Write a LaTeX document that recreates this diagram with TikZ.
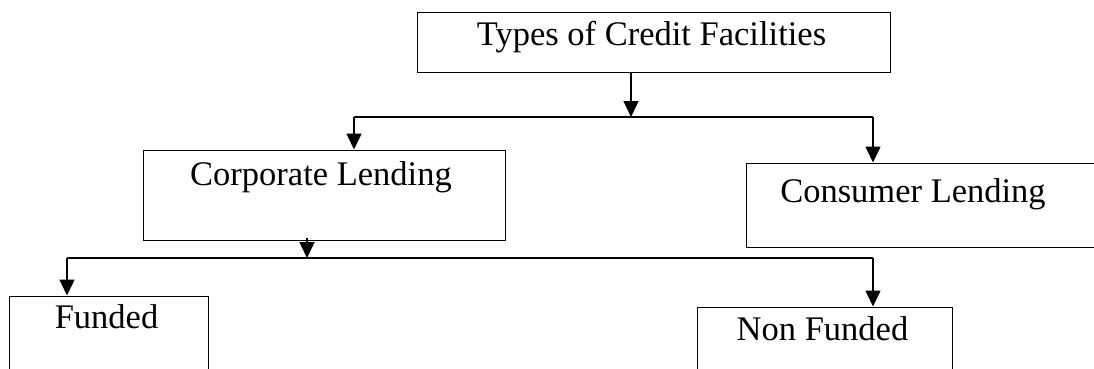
\documentclass[tikz,border=0pt]{standalone}
\usepackage{fontspec}
\setmainfont{Liberation Serif}
\usetikzlibrary{arrows.meta}

\tikzset{
  facility/.style={draw, rectangle, line width=1pt, inner sep=0pt},
  caption/.style={anchor=north, inner sep=0pt, font=\fontsize{34.5}{41}\selectfont},
  link/.style={line width=1.5pt, -{Triangle[width=15pt,length=16pt]}},
  bus/.style={line width=2pt},
}

\begin{document}
\begin{tikzpicture}[x=1pt,y=-1pt]
  \useasboundingbox (0,0) rectangle (1094,368);
  \clip (0,0) rectangle (1094,368);

  % boxes
  \node[facility, minimum width=473pt, minimum height=60pt,
        label={[caption,yshift=-10pt,xshift=-2pt]north:Types of Credit Facilities}] (types) at (653.5,42) {};
  \node[facility, minimum width=362pt, minimum height=90pt,
        label={[caption,yshift=-12pt,xshift=-3pt]north:Corporate Lending}] (corp) at (324,195) {};
  \node[facility, minimum width=354pt, minimum height=84pt,
        label={[caption,yshift=-16pt,xshift=-10pt]north:Consumer Lending}] (cons) at (923,205) {};
  \node[facility, minimum width=199pt, minimum height=90pt,
        label={[caption,yshift=-9pt,xshift=-2pt]north:Funded}] (funded) at (108.5,341) {};
  \node[facility, minimum width=255pt, minimum height=90pt,
        label={[caption,yshift=-10pt,xshift=-2pt]north:Non Funded}] (nonfunded) at (824.5,352) {};

  % first level
  \coordinate (split1) at (631,117);
  \coordinate (left1) at (354,117);
  \coordinate (right1) at (873,117);
  \draw[link] (types.south -| split1) -- (split1);
  \draw[bus] (left1) -- (right1);
  \draw[link] (left1) -- (left1 |- corp.north);
  \draw[link] (right1) -- (right1 |- cons.north);

  % second level
  \coordinate (split2) at (307,258);
  \coordinate (left2) at (67,258);
  \coordinate (right2) at (873,258);
  \draw[link] ([yshift=3pt]corp.south -| split2) -- (split2);
  \draw[bus] (left2) -- (right2);
  \draw[link] (left2) -- (left2 |- funded.north);
  \draw[link] (right2) -- (right2 |- nonfunded.north);
\end{tikzpicture}
\end{document}
